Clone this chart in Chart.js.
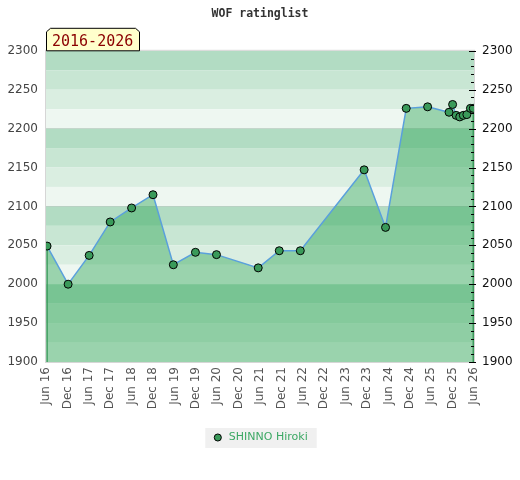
<!DOCTYPE html>
<html>
<head>
<meta charset="utf-8">
<script src="https://cdn.jsdelivr.net/npm/chart.js@4"></script>
<style>
  body { margin: 0; background: #fff; }
</style>
</head>
<body>
<canvas id="ratingChart" width="520" height="480"></canvas>
<script>
// datos
const chartTitle = 'WOF ratinglist';
const periodLabel = '2016-2026';
const playerName = 'SHINNO Hiroki';

// meses desde Jun 2016
const monthsFromJun16 = [0.3, 6.2, 12.1, 18, 24, 30, 35.7, 41.9, 47.8, 59.5, 65.4, 71.3,
  89.2, 95.2, 101, 107, 113, 114, 115, 116, 117, 118, 119, 119.8];
const ratings = [2049, 2000, 2037, 2080, 2098, 2115, 2025, 2041, 2038, 2021, 2043, 2043,
  2147, 2073, 2226, 2228, 2221, 2231, 2217, 2215, 2217, 2218, 2226, 2226];

const tickLabels = ['Jun 16', 'Dec 16', 'Jun 17', 'Dec 17', 'Jun 18', 'Dec 18', 'Jun 19',
  'Dec 19', 'Jun 20', 'Dec 20', 'Jun 21', 'Dec 21', 'Jun 22', 'Dec 22', 'Jun 23', 'Dec 23',
  'Jun 24', 'Dec 24', 'Jun 25', 'Dec 25', 'Jun 26'];

const pointGreen = '#3a9a5a';

// franjas de fondo
const bandsPlugin = {
  id: 'bands',
  beforeDraw(chart) {
    const { ctx, chartArea: a, scales: { y } } = chart;
    const colors = ['#b2dcc3', '#c8e6d3', '#daeee1', '#eef7f1'];
    ctx.save();
    let i = 0;
    for (let v = y.max; v > y.min; v -= 25) {
      const top = y.getPixelForValue(v);
      const bot = y.getPixelForValue(v - 25);
      ctx.fillStyle = colors[i % 4];
      ctx.fillRect(a.left, top, a.right - a.left, bot - top);
      i++;
    }
    ctx.strokeStyle = '#d6d6d6';
    ctx.lineWidth = 1;
    ctx.strokeRect(a.left - 0.5, a.top - 0.5, a.right - a.left + 1, a.bottom - a.top + 1);

    // fondo de la leyenda
    const hb = chart.legend && chart.legend.legendHitBoxes[0];
    if (hb) {
      ctx.fillStyle = '#f0f0f0';
      ctx.fillRect(hb.left - 7, hb.top - 4, hb.width + 16, hb.height + 9);
    }
    ctx.restore();
  }
};

// lineas verdes en los extremos del area
const edgePlugin = {
  id: 'edges',
  beforeDatasetDraw(chart) {
    const { ctx, chartArea: a } = chart;
    const pts = chart.getDatasetMeta(0).data;
    if (!pts.length) return;
    ctx.save();
    ctx.strokeStyle = pointGreen;
    ctx.lineWidth = 1.5;
    [pts[0], pts[pts.length - 1]].forEach(p => {
      ctx.beginPath();
      ctx.moveTo(p.x, p.y);
      ctx.lineTo(p.x, a.bottom);
      ctx.stroke();
    });
    ctx.restore();
  }
};

// marcas del eje derecho y etiqueta del periodo
const overlayPlugin = {
  id: 'overlay',
  afterDraw(chart) {
    const { ctx, chartArea: a, scales: { y2 } } = chart;
    ctx.save();
    ctx.strokeStyle = '#000';
    ctx.lineWidth = 1;
    for (let v = y2.min; v <= y2.max; v += 10) {
      const py = Math.round(y2.getPixelForValue(v)) + 0.5;
      const major = v % 50 === 0;
      ctx.beginPath();
      ctx.moveTo(a.right - (major ? 5 : 3), py);
      ctx.lineTo(a.right + (major ? 2 : 0), py);
      ctx.stroke();
    }

    const l = a.left, r = a.left + 94, t = a.top - 23, b = a.top;
    ctx.beginPath();
    ctx.moveTo(l + 0.5, b);
    ctx.lineTo(l + 0.5, t + 4);
    ctx.lineTo(l + 4.5, t + 0.5);
    ctx.lineTo(r - 4.5, t + 0.5);
    ctx.lineTo(r - 0.5, t + 4);
    ctx.lineTo(r - 0.5, b);
    ctx.closePath();
    ctx.fillStyle = '#ffffcc';
    ctx.fill();
    ctx.stroke();
    ctx.fillStyle = '#8b0000';
    ctx.font = '15px "DejaVu Sans Mono"';
    ctx.textBaseline = 'alphabetic';
    ctx.fillText(periodLabel, l + 6, b - 5);
    ctx.restore();
  }
};

const ctx = document.getElementById('ratingChart').getContext('2d');
new Chart(ctx, {
  type: 'line',
  data: {
    datasets: [{
      label: playerName,
      data: monthsFromJun16.map((m, i) => ({ x: m, y: ratings[i] })),
      borderColor: 'rgb(90,160,220)',
      borderWidth: 1.5,
      backgroundColor: 'rgba(44,165,84,0.43)',
      fill: 'start',
      tension: 0,
      pointRadius: 4,
      pointHoverRadius: 4,
      pointBackgroundColor: pointGreen,
      pointBorderColor: '#000',
      pointBorderWidth: 1
    }]
  },
  options: {
    responsive: false,
    animation: false,
    layout: { padding: { left: 0, right: 0, top: 0, bottom: 27 } },
    plugins: {
      title: {
        display: true,
        text: chartTitle,
        color: '#333',
        font: { family: 'DejaVu Sans Mono', size: 11.5, weight: 'bold' },
        padding: { top: 7, bottom: 30 }
      },
      legend: {
        position: 'bottom',
        labels: {
          usePointStyle: true,
          pointStyle: 'circle',
          boxWidth: 12,
          boxHeight: 5,
          color: '#3ca864',
          font: { family: 'DejaVu Sans', size: 11 },
          generateLabels(chart) {
            return Chart.defaults.plugins.legend.labels.generateLabels(chart).map(item => {
              item.fillStyle = pointGreen;
              item.strokeStyle = '#000';
              item.lineWidth = 1;
              item.fontColor = '#3ca864';
              return item;
            });
          }
        }
      },
      tooltip: { enabled: false }
    },
    scales: {
      x: {
        type: 'linear',
        min: 0,
        max: 120,
        afterFit(s) { s.height = 60; },
        grid: { display: false, drawTicks: false },
        border: { color: '#d6d6d6' },
        ticks: {
          stepSize: 6,
          autoSkip: false,
          minRotation: 90,
          maxRotation: 90,
          padding: 5,
          color: '#555',
          font: { family: 'DejaVu Sans', size: 12 },
          callback: v => tickLabels[Math.round(v / 6)]
        }
      },
      y: {
        position: 'left',
        min: 1900,
        max: 2300,
        afterFit(s) { s.width = 46; },
        border: { display: false },
        grid: {
          drawTicks: false,
          color: c => (c.tick.value % 100 === 0 && c.tick.value > 2000 && c.tick.value < 2300) ? 'rgba(0,0,0,0.1)' : 'transparent'
        },
        ticks: {
          stepSize: 50,
          padding: 8,
          color: '#444',
          font: { family: 'DejaVu Sans', size: 12 },
          callback: v => String(v)
        }
      },
      y2: {
        position: 'right',
        min: 1900,
        max: 2300,
        afterFit(s) { s.width = 46; },
        border: { color: '#d6d6d6' },
        grid: { drawOnChartArea: false, drawTicks: false },
        ticks: {
          stepSize: 50,
          padding: 8,
          color: '#111',
          font: { family: 'DejaVu Sans', size: 12 },
          callback: v => String(v)
        }
      }
    }
  },
  plugins: [bandsPlugin, edgePlugin, overlayPlugin]
});
</script>
</body>
</html>
